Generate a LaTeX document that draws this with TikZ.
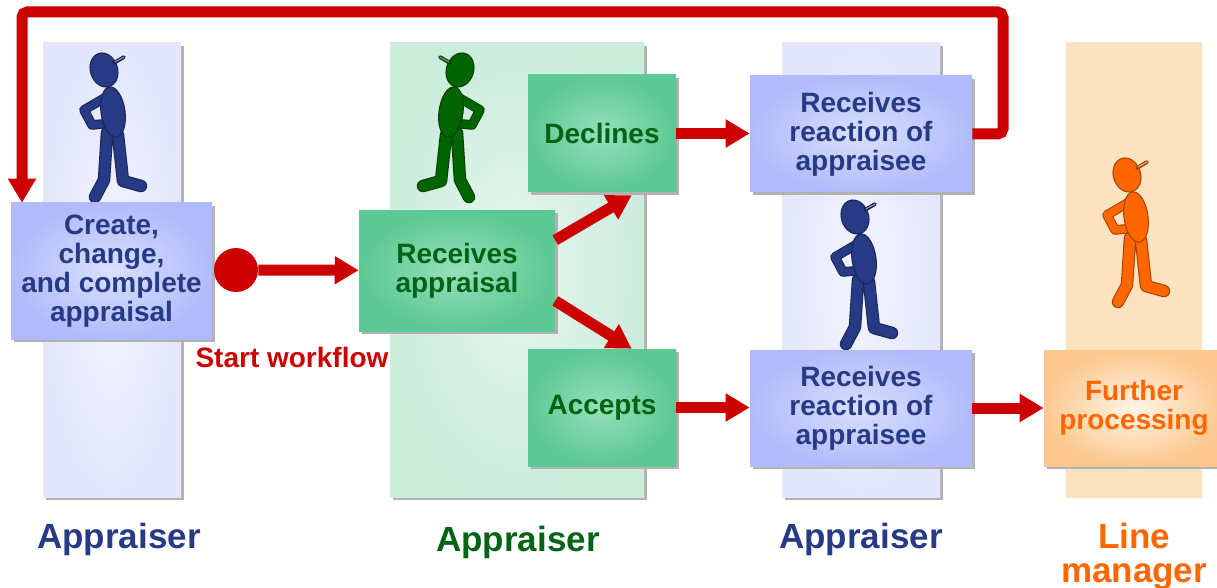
\documentclass[tikz,border=0pt]{standalone}
\usepackage{fontspec}
\setmainfont{Liberation Sans}
\usetikzlibrary{arrows.meta, calc, shadows}
\definecolor{cLaneB}{RGB}{228, 231, 252}
\definecolor{iLaneB}{RGB}{242, 244, 254}
\definecolor{cBoxB}{RGB}{177, 187, 251}
\definecolor{iBoxB}{RGB}{218, 224, 253}
\definecolor{tBlue}{RGB}{38, 58, 133}
\definecolor{cLaneG}{RGB}{204, 236, 220}
\definecolor{iLaneG}{RGB}{232, 247, 239}
\definecolor{cBoxG}{RGB}{92, 200, 147}
\definecolor{iBoxG}{RGB}{150, 223, 187}
\definecolor{tGreen}{RGB}{0, 100, 20}
\definecolor{fGreen}{RGB}{0, 100, 0}
\definecolor{cLaneO}{RGB}{253, 226, 194}
\definecolor{cBoxO}{RGB}{252, 200, 143}
\definecolor{iBoxO}{RGB}{255, 244, 232}
\definecolor{tOrange}{RGB}{255, 102, 0}
\definecolor{cRed}{RGB}{204, 0, 0}
\definecolor{cShade}{RGB}{178, 178, 178}

\begin{document}
\begin{tikzpicture}[
    x=0.75pt, y=-0.75pt,
    font=\fontsize{21}{21.75}\selectfont\bfseries,
    inner sep=0pt,
    shade/.style={drop shadow={shadow xshift=2.4pt, shadow yshift=-2.4pt, fill=cShade, opacity=1}},
    lane/.style 2 args={shading=radial, outer color=#1, inner color=#2, minimum height=340.5pt},
    block/.style 2 args={shading=radial, outer color=#1, inner color=#2, align=center, shade},
    flow/.style={draw=cRed, line width=8.25pt, -{Triangle[length=18pt, width=20pt]}},
    role/.style={font=\fontsize{26.25}{25.5}\selectfont\bfseries, anchor=base, align=center},
    limb/.style={line cap=round, line join=round},
    pics/person/.style={code={
        % legs and bent arm, darker rim under the body colour
        \draw[limb, draw=#1!65!black, line width=9.4pt] (27,81) -- (24,128) -- (15,145) (38,83) -- (43,129) -- (61,134);
        \draw[limb, draw=#1, line width=7.8pt] (27,81) -- (24,128) -- (15,145) (38,83) -- (43,129) -- (61,134);
        \draw[limb, draw=#1!65!black, line width=7.2pt] (28,44) -- (4,58) -- (12,73) -- (22,72);
        \draw[limb, draw=#1, line width=5.6pt] (28,44) -- (4,58) -- (12,73) -- (22,72);
        % trunk, head and cap
        \filldraw[fill=#1, draw=#1!65!black, line width=0.8pt, rotate around={8:(33,60)}] (33,60) ellipse [x radius=9pt, y radius=19pt];
        \filldraw[fill=#1, draw=#1!65!black, line width=0.8pt, rotate around={18:(24,18)}] (24,18) ellipse [x radius=10.2pt, y radius=13pt];
        \draw[limb, draw=#1!65!black, line width=2.8pt] (34,11) -- (44,5);
        \draw[limb, draw=#1!40!white, line width=0.6pt] (35,10) -- (44,5);
    }}
]
\useasboundingbox (0,0) rectangle (1217,588);

% swim lanes
\node[lane={cLaneB}{iLaneB}, shade, minimum width=103.5pt] (laneA) at (112,270) {};
\node[lane={cLaneG}{iLaneG}, shade, minimum width=190.5pt] (laneB) at (517,270) {};
\node[lane={cLaneB}{iLaneB}, shade, minimum width=118.5pt] (laneC) at (861,270) {};
\node[lane={cLaneO}{cLaneO}, minimum width=102pt] (laneD) at (1134,270) {};

% people
\pic at (80,52) {person=tBlue};
\pic[xscale=-1] at (484,52) {person=fGreen};
\pic at (831,199) {person=tBlue};
\pic at (1103,157) {person=tOrange};

% steps
\node[block={cBoxB}{iBoxB}, text=tBlue, minimum width=150.75pt, minimum height=102pt] (create) at (111.5,271) {Create,\\change,\\and complete\\appraisal};
\node[block={cBoxG}{iBoxG}, text=tGreen, minimum width=147pt, minimum height=90.75pt] (recv) at (457,270.5) {Receives\\appraisal};
\node[block={cBoxG}{iBoxG}, text=tGreen, minimum width=111pt, minimum height=87.75pt] (declines) at (602,133.5) {Declines};
\node[block={cBoxG}{iBoxG}, text=tGreen, minimum width=111pt, minimum height=87.75pt] (accepts) at (602,407.5) {Accepts};
\node[block={cBoxB}{iBoxB}, text=tBlue, minimum width=166.5pt, minimum height=87pt] (reactA) at (861,134) {Receives\\reaction of\\appraisee};
\node[block={cBoxB}{iBoxB}, text=tBlue, minimum width=166.5pt, minimum height=87pt] (reactB) at (861,408) {Receives\\reaction of\\appraisee};
\node[block={cBoxO}{iBoxO}, text=tOrange, minimum width=135pt, minimum height=87pt] (further) at (1134,408) {Further\\processing};

% workflow start
\node[circle, fill=cRed, minimum size=33pt] (start) at (236,270) {};
\node[text=cRed, anchor=base] (startlbl) at (292,367) {Start workflow};

% connectors
\coordinate (loopR) at (1003,12);
\coordinate (loopL) at (22,12);
\coordinate (upTip) at ($(declines.south east)!0.3!(declines.south west)+(0,3)$);
\coordinate (downTip) at ($(accepts.north east)!0.3!(accepts.north west)$);
\draw[flow] (start) -- (recv);
\draw[flow] ($(recv.north east)!0.25!(recv.south east)$) -- (upTip);
\draw[flow] ($(recv.north east)!0.75!(recv.south east)$) -- (downTip);
\draw[flow] (declines.east) -- (reactA.west |- declines.east);
\draw[flow] (accepts.east) -- (reactB.west |- accepts.east);
\draw[flow] (reactB.east) -- (further.west |- reactB.east);
\draw[flow, rounded corners=4pt] (reactA.east) -| (loopR) -| (create.north -| loopL);

% roles
\node[role, text=tBlue] (roleA) at (119,548) {Appraiser};
\node[role, text=tGreen] (roleB) at (518,551) {Appraiser};
\node[role, text=tBlue] (roleC) at (861,548) {Appraiser};
\node[role, text=tOrange] (roleD) at (1134,582) {Line\\manager};
\end{tikzpicture}
\end{document}
